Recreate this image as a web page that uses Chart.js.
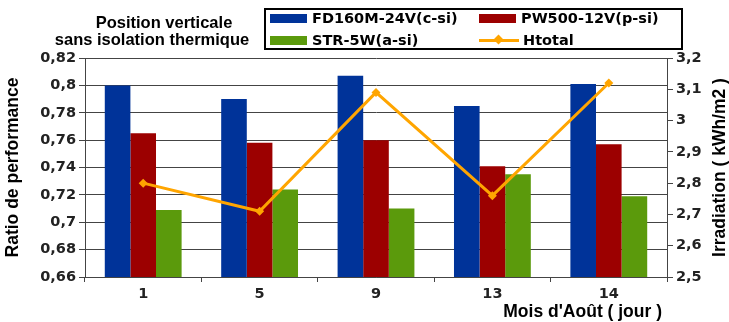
<!DOCTYPE html>
<html>
<head>
<meta charset="utf-8">
<script src="https://cdn.jsdelivr.net/npm/chart.js@4/dist/chart.umd.min.js"></script>
<style>
  html, body { margin: 0; padding: 0; background: #fff; }
  #wrap { position: relative; width: 729px; height: 322px; overflow: hidden; }
  #chart { position: absolute; left: 0; top: 0; }
  .ttl { position: absolute; width: 220px; text-align: center; font: bold 16.5px "Liberation Sans", Arial, sans-serif; line-height: 17px; color: #000; white-space: nowrap; }
  .legend { position: absolute; left: 264px; top: 8px; width: 415px; height: 38px; border: 2px solid #000; background: #fff;
            font: bold 14.5px "DejaVu Sans", Verdana, sans-serif; color: #000; }
  .item { position: absolute; height: 18px; line-height: 18px; display: flex; align-items: center; white-space: nowrap; }
  .sw { width: 37px; height: 9px; margin-right: 5px; flex: none; }
  .ln { position: relative; width: 40px; height: 3px; margin-right: 4px; flex: none; }
  .ln i { position: absolute; left: 16px; top: -3px; width: 7px; height: 7px; transform: rotate(45deg); }
</style>
</head>
<body>
<div id="wrap">
  <canvas id="chart" width="729" height="322"></canvas>
  <div class="ttl" style="left:54px; top:14px;">Position verticale</div>
  <div class="ttl" style="left:42px; top:31px;">sans isolation thermique</div>
  <div class="legend" id="legend"></div>
</div>
<script>
// Days of August on the x axis
const categories = ['1', '5', '9', '13', '14'];

// Performance ratio per module technology
const fd160m = [0.800, 0.790, 0.807, 0.785, 0.801];
const pw500  = [0.765, 0.758, 0.760, 0.741, 0.757];
const str5w  = [0.709, 0.724, 0.710, 0.735, 0.719];

// Total irradiation (kWh/m2), right axis
const htotal = [2.80, 2.71, 3.09, 2.76, 3.12];

// Axis tick values
const ratioTicks = [0.66, 0.68, 0.70, 0.72, 0.74, 0.76, 0.78, 0.80, 0.82];
const irradiationTicks = [2.5, 2.6, 2.7, 2.8, 2.9, 3.0, 3.1, 3.2];

const seriesNames = ['FD160M-24V(c-si)', 'PW500-12V(p-si)', 'STR-5W(a-si)', 'Htotal'];
const seriesColors = ['#003399', '#9c0000', '#5b9a0c', '#ffa500'];

const fmt = v => String(Math.round(v * 100) / 100).replace('.', ',');
const tickFont = { family: '"DejaVu Sans", Verdana, sans-serif', size: 14.5, weight: 'bold' };
const titleFont = 'bold 17.5px "Liberation Sans", Arial, sans-serif';
const axisColor = '#444';

// Axis titles: left and right both read bottom-to-top, x title right-aligned
const axisTitles = {
  id: 'axisTitles',
  afterDraw(chart) {
    const { ctx, chartArea } = chart;
    const cy = (chartArea.top + chartArea.bottom) / 2;
    ctx.save();
    ctx.font = titleFont;
    ctx.fillStyle = '#000';
    ctx.textAlign = 'center';
    ctx.textBaseline = 'middle';
    [[13, 'Ratio de performance'], [720, 'Irradiation ( kWh/m2 )']].forEach(([x, t]) => {
      ctx.save();
      ctx.translate(x, cy);
      ctx.rotate(-Math.PI / 2);
      ctx.fillText(t, 0, 0);
      ctx.restore();
    });
    ctx.textAlign = 'right';
    ctx.textBaseline = 'alphabetic';
    ctx.fillText("Mois d'Août ( jour )", chartArea.right - 5, 317);
    ctx.restore();
  }
};

new Chart(document.getElementById('chart'), {
  type: 'bar',
  data: {
    labels: categories,
    datasets: [
      { label: seriesNames[0], data: fd160m, backgroundColor: seriesColors[0], yAxisID: 'y', order: 1 },
      { label: seriesNames[1], data: pw500,  backgroundColor: seriesColors[1], yAxisID: 'y', order: 1 },
      { label: seriesNames[2], data: str5w,  backgroundColor: seriesColors[2], yAxisID: 'y', order: 1 },
      { type: 'line', label: seriesNames[3], data: htotal, yAxisID: 'y2', order: 0,
        borderColor: seriesColors[3], backgroundColor: seriesColors[3], borderWidth: 3,
        pointStyle: 'rectRot', pointRadius: 4.5, pointBorderWidth: 0, tension: 0 }
    ]
  },
  options: {
    responsive: false,
    animation: false,
    layout: { padding: { top: 58, left: 0, right: 0, bottom: 0 } },
    datasets: { bar: { categoryPercentage: 0.66, barPercentage: 1 } },
    plugins: { legend: { display: false }, tooltip: { enabled: false } },
    scales: {
      x: {
        grid: { drawOnChartArea: false, drawTicks: true, tickLength: 5, color: axisColor, offset: true },
        border: { color: axisColor },
        ticks: { font: tickFont, color: '#222', padding: 4 },
        afterFit(s) { s.height = 45; }
      },
      y: {
        position: 'left', min: 0.66, max: 0.82,
        afterBuildTicks(s) { s.ticks = ratioTicks.map(v => ({ value: v })); },
        grid: { color: axisColor, tickLength: 6 },
        border: { color: axisColor },
        ticks: { font: tickFont, color: '#222', padding: 3, callback: v => fmt(v) },
        afterFit(s) { s.width = 85; }
      },
      y2: {
        position: 'right', min: 2.5, max: 3.2,
        afterBuildTicks(s) { s.ticks = irradiationTicks.map(v => ({ value: v })); },
        grid: { drawOnChartArea: false, color: axisColor, tickLength: 6 },
        border: { color: axisColor },
        ticks: { font: tickFont, color: '#222', padding: 3, callback: v => fmt(v) },
        afterFit(s) { s.width = 62; }
      }
    }
  },
  plugins: [axisTitles]
});

// Legend box: two rows, two columns
const legend = document.getElementById('legend');
const legendPos = [[4, -1], [213, -1], [4, 21], [213, 21]];
seriesNames.forEach((name, i) => {
  const item = document.createElement('div');
  item.className = 'item';
  item.style.left = legendPos[i][0] + 'px';
  item.style.top = legendPos[i][1] + 'px';
  if (i < 3) {
    item.innerHTML = '<span class="sw" style="background:' + seriesColors[i] + '"></span>';
  } else {
    item.innerHTML = '<span class="ln" style="background:' + seriesColors[i] + '"><i style="background:' + seriesColors[i] + '"></i></span>';
  }
  const label = document.createElement('span');
  label.textContent = name;
  item.appendChild(label);
  legend.appendChild(item);
});
</script>
</body>
</html>
